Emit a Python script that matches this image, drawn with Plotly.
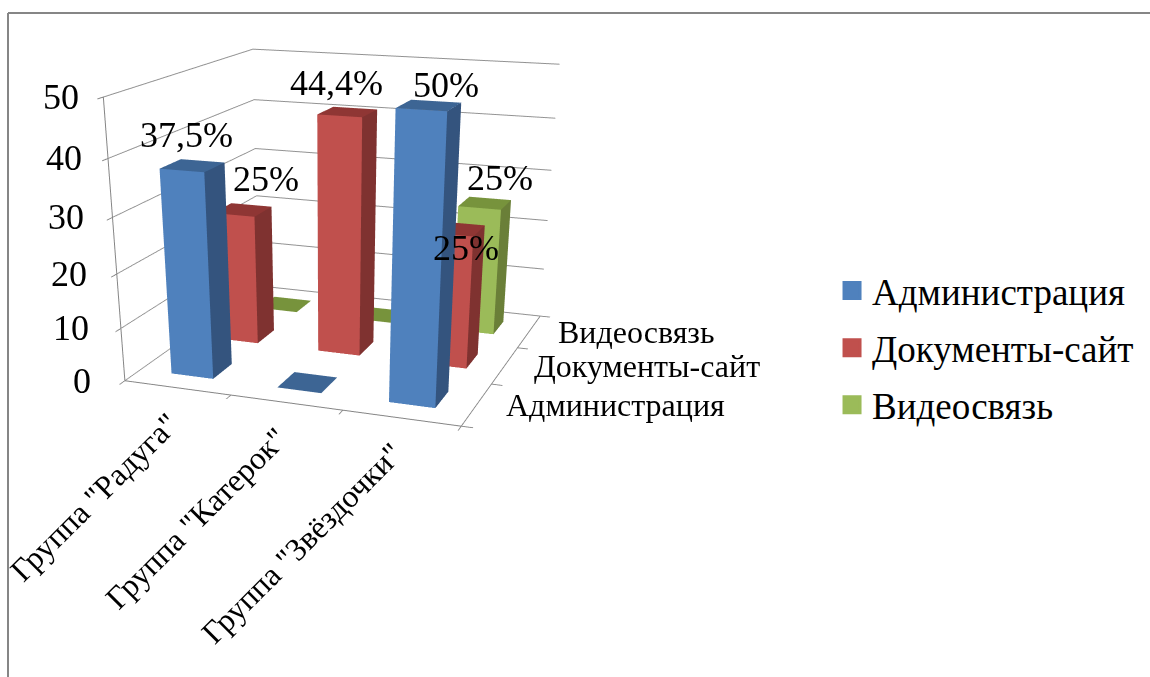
import plotly.graph_objects as go

categories = ['Группа "Радуга"', 'Группа "Катерок"', 'Группа "Звёздочки"']
series_names = ['Администрация', 'Документы-сайт', 'Видеосвязь']
admin_values = [37.5, 0, 50]
docs_values = [25, 44.4, 25]
video_values = [0, 0, 25]
admin_labels = ['37,5%', None, '50%']
docs_labels = ['25%', '44,4%', '25%']
video_labels = [None, None, '25%']
z_ticks = [0, 10, 20, 30, 40, 50]

# Label nudges in pixels (series index, category index) -> (dx, dy up)
label_nudge = {(0,0):(-6,9),(1,0):(23,9),(1,1):(-11,7),(0,2):(17,-2),(1,2):(10,-41),(2,2):(15,3)}

W_DOM = 658
HT = 1100   # taller scene gives the weak perspective of the original; only the top 677 px are shown
eye = (1.643,-4.718,1.227); cen = (0.388,-1.264,-0.710); asp = (1.276,1.279,1.0)

FONT = 'Liberation Serif'
front = ['#4F81BD', '#C0504D', '#9BBB59']
side = ['#34547E', '#7F3230', '#6A7F38']
top = ['#3D6594', '#8F3634', '#77933C']
bw = 0.4
all_values = [admin_values, docs_values, video_values]
all_labels = [admin_labels, docs_labels, video_labels]
fig = go.Figure()
for s, vals in enumerate(all_values):
    X, Y, Z, I, J, K, FC = [], [], [], [], [], [], []
    for c, h in enumerate(vals):
        x0, x1 = c+.5-bw/2, c+.5+bw/2
        y0, y1 = s+.5-bw/2, s+.5+bw/2
        quads = [([(x0,y0,0),(x1,y0,0),(x1,y0,h),(x0,y0,h)], front[s]),
                 ([(x1,y0,0),(x1,y1,0),(x1,y1,h),(x1,y0,h)], side[s]),
                 ([(x0,y0,h),(x1,y0,h),(x1,y1,h),(x0,y1,h)], top[s])]
        for q, col in quads:
            n0 = len(X)
            for v in q:
                X.append(v[0]); Y.append(v[1]); Z.append(v[2])
            I += [n0,n0]; J += [n0+1,n0+2]; K += [n0+2,n0+3]; FC += [col,col]
    fig.add_trace(go.Mesh3d(x=X,y=Y,z=Z,i=I,j=J,k=K,facecolor=FC,flatshading=True,showlegend=False,hoverinfo='skip',
        lighting=dict(ambient=1,diffuse=0,specular=0,fresnel=0,roughness=1)))
for s, name in enumerate(series_names):
    fig.add_trace(go.Scatter3d(x=[None],y=[None],z=[None],mode='markers',name=name,legendgroup=name,
        marker=dict(symbol='square',size=16,color=front[s],line=dict(width=3,color=front[s]))))

ann = []
for v in z_ticks:
    ann.append(dict(x=0,y=0,z=v,text=str(v),showarrow=False,xanchor='right',yanchor='middle',xshift=-32+v*0.2,font=dict(family=FONT,size=36,color='black')))
for i, cat in enumerate(categories):
    ann.append(dict(x=i+.5,y=0,z=0,text=cat,showarrow=False,xanchor='right',yanchor='top',textangle=-45,xshift=11,yshift=-15,font=dict(family=FONT,size=32,color='black')))
for i, name in enumerate(series_names):
    ann.append(dict(x=3,y=i+.5,z=0,text=name,showarrow=False,xanchor='left',yanchor='middle',xshift=27,yshift=-1,font=dict(family=FONT,size=32,color='black')))
for s,(vals,labs) in enumerate(zip(all_values,all_labels)):
    for i,(h,t) in enumerate(zip(vals,labs)):
        if t:
            dx,dy = label_nudge[(s,i)]
            ann.append(dict(x=i+.5,y=s+.5,z=h,text=t,showarrow=False,xanchor='center',yanchor='bottom',xshift=dx,yshift=dy,font=dict(family=FONT,size=36,color='black')))

axis = dict(showbackground=False,showspikes=False,zeroline=False,showline=True,linecolor='#858585',linewidth=2,
            ticks='outside',ticklen=9,tickcolor='#858585',tickwidth=2,showticklabels=False,title=dict(text=''),showgrid=False)
py = lambda v: 1-v/HT
fig.update_layout(
    width=1150,height=HT,margin=dict(l=0,r=0,t=0,b=0),paper_bgcolor='white',
    font=dict(family=FONT,color='black'),
    scene=dict(domain=dict(x=[0,W_DOM/1150],y=[0,1]),aspectmode='manual',aspectratio=dict(x=asp[0],y=asp[1],z=asp[2]),
        camera=dict(eye=dict(x=eye[0],y=eye[1],z=eye[2]),center=dict(x=cen[0],y=cen[1],z=cen[2]),up=dict(x=0,y=0,z=1)),
        xaxis=dict(axis,range=[0,3],tickvals=[0,1,2,3]),
        yaxis=dict(axis,range=[0,3],tickvals=[0,1,2,3]),
        zaxis=dict(axis,range=[0,50],tickvals=z_ticks,showgrid=True,gridcolor='#929292',gridwidth=2),
        annotations=ann),
    legend=dict(x=0.7235,y=py(348),yanchor='middle',xanchor='left',font=dict(family=FONT,size=37,color='black'),tracegroupgap=6,itemclick=False,itemdoubleclick=False),
    shapes=[dict(type='line',xref='paper',yref='paper',x0=8/1150,x1=1,y0=py(13),y1=py(13),line=dict(color='#868686',width=2)),
            dict(type='line',xref='paper',yref='paper',x0=8/1150,x1=8/1150,y0=py(677),y1=py(13),line=dict(color='#868686',width=2))],
)
fig.write_html('out.html',config=dict(displayModeBar=False),post_script="document.body.style.margin='0';document.documentElement.style.overflow='hidden';")
